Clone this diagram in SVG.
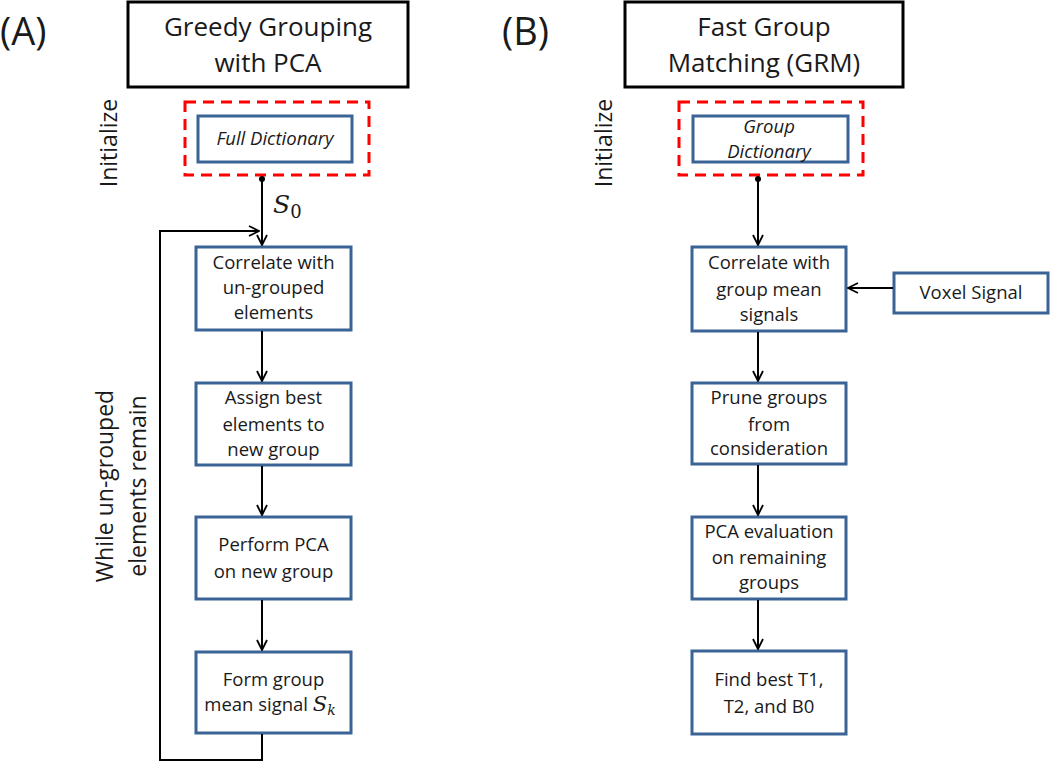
<svg xmlns="http://www.w3.org/2000/svg" width="1050" height="763" viewBox="0 0 1050 763">
<style>
text{font-family:"Open Sans","Liberation Sans",sans-serif;fill:#1a1a1a;}
.lbl{font-size:38px;}
.title{font-size:26px;text-anchor:middle;}
.side{font-size:23px;text-anchor:middle;}
.bt{font-size:18.5px;text-anchor:middle;}
.it{font-style:italic;}
.math{font-family:"DejaVu Serif","Liberation Serif",serif;font-style:italic;font-size:21px;}
.mathL{font-family:"DejaVu Serif","Liberation Serif",serif;font-style:italic;font-size:25px;}
.sub{font-family:"DejaVu Serif","Liberation Serif",serif;font-style:normal;font-size:18px;}
.subi{font-family:"DejaVu Serif","Liberation Serif",serif;font-style:italic;font-size:14px;}
.tbox{fill:#fff;stroke:#000;stroke-width:3;}
.bbox{fill:#fff;stroke:#3A6396;stroke-width:3;}
.red{fill:none;stroke:#FF0000;stroke-width:3;stroke-dasharray:11 7;}
.con{fill:none;stroke:#000;stroke-width:2;}
</style>
<defs>
<marker id="arr" viewBox="0 0 12 12" refX="11" refY="6" markerWidth="12" markerHeight="12" markerUnits="userSpaceOnUse" orient="auto">
<path d="M1,1 L11,6 L1,11" fill="none" stroke="#000" stroke-width="1.8"/>
</marker>
<marker id="dot" viewBox="0 0 6 6" refX="3" refY="3" markerWidth="6" markerHeight="6" markerUnits="userSpaceOnUse">
<circle cx="3" cy="3" r="3" fill="#000"/>
</marker>
</defs>

<text class="lbl" x="0" y="45">(A)</text>
<text class="lbl" x="502" y="45">(B)</text>

<g id="titleA">
<rect class="tbox" x="128" y="2" width="280" height="85"/>
<text class="title" x="268" y="36">Greedy Grouping</text>
<text class="title" x="268" y="72">with PCA</text>
</g>
<g id="titleB">
<rect class="tbox" x="625" y="2" width="278" height="85"/>
<text class="title" x="764" y="36">Fast Group</text>
<text class="title" x="764" y="72">Matching (GRM)</text>
</g>

<g id="initA"><text class="side" transform="translate(117,143) rotate(-90)">Initialize</text></g>
<g id="initB"><text class="side" transform="translate(612,143) rotate(-90)">Initialize</text></g>

<g id="whileLabel">
<text class="side" transform="translate(113,486) rotate(-90)">While un-grouped</text>
<text class="side" transform="translate(146,486) rotate(-90)">elements remain</text>
</g>

<g id="initBoxA">
<rect class="red" x="185" y="102" width="184" height="73"/>
</g>
<g id="fullDict">
<rect class="bbox" x="198" y="116" width="154" height="46"/>
<text class="bt it" x="275" y="145">Full Dictionary</text>
</g>

<g id="initBoxB">
<rect class="red" x="679" y="102" width="184" height="73"/>
</g>
<g id="groupDict">
<rect class="bbox" x="693" y="116" width="155" height="46"/>
<text class="bt it" x="769" y="133">Group</text>
<text class="bt it" x="769" y="158">Dictionary</text>
</g>

<g id="a1">
<rect class="bbox" x="196" y="247" width="155" height="83"/>
<text class="bt" x="273.5" y="269">Correlate with</text>
<text class="bt" x="273.5" y="294">un-grouped</text>
<text class="bt" x="273.5" y="319">elements</text>
</g>
<g id="a2">
<rect class="bbox" x="196" y="383" width="155" height="82"/>
<text class="bt" x="273.5" y="404">Assign best</text>
<text class="bt" x="273.5" y="431">elements to</text>
<text class="bt" x="273.5" y="456">new group</text>
</g>
<g id="a3">
<rect class="bbox" x="196" y="517" width="155" height="82"/>
<text class="bt" x="273.5" y="551">Perform PCA</text>
<text class="bt" x="273.5" y="578">on new group</text>
</g>
<g id="a4">
<rect class="bbox" x="196" y="652" width="155" height="81"/>
<text class="bt" x="273.5" y="686">Form group</text>
<text class="bt" x="270" y="711">mean signal <tspan class="math">S</tspan><tspan class="subi" dy="4">k</tspan></text>
</g>

<g id="b1">
<rect class="bbox" x="692" y="247" width="154" height="84"/>
<text class="bt" x="769" y="269">Correlate with</text>
<text class="bt" x="769" y="296">group mean</text>
<text class="bt" x="769" y="321">signals</text>
</g>
<g id="voxel">
<rect class="bbox" x="894" y="273" width="154" height="40"/>
<text class="bt" x="971" y="299">Voxel Signal</text>
</g>
<g id="b2">
<rect class="bbox" x="692" y="383" width="154" height="81"/>
<text class="bt" x="769" y="404">Prune groups</text>
<text class="bt" x="769" y="431">from</text>
<text class="bt" x="769" y="455">consideration</text>
</g>
<g id="b3">
<rect class="bbox" x="692" y="517" width="154" height="82"/>
<text class="bt" x="769" y="538">PCA evaluation</text>
<text class="bt" x="769" y="564">on remaining</text>
<text class="bt" x="769" y="589">groups</text>
</g>
<g id="b4">
<rect class="bbox" x="692" y="651" width="154" height="83"/>
<text class="bt" x="769" y="686">Find best T1,</text>
<text class="bt" x="769" y="713">T2, and B0</text>
</g>

<g id="connectors">
<line class="con" x1="262" y1="179" x2="262" y2="245" marker-start="url(#dot)" marker-end="url(#arr)"/>
<text x="273" y="213"><tspan class="mathL">S</tspan><tspan class="sub" dy="5">0</tspan></text>
<line class="con" x1="262" y1="331" x2="262" y2="381" marker-end="url(#arr)"/>
<line class="con" x1="262" y1="466" x2="262" y2="515" marker-end="url(#arr)"/>
<line class="con" x1="262" y1="600" x2="262" y2="650" marker-end="url(#arr)"/>
<polyline class="con" points="262,734 262,760 160,760 160,231 259,231" marker-end="url(#arr)"/>

<line class="con" x1="758" y1="179" x2="758" y2="245" marker-start="url(#dot)" marker-end="url(#arr)"/>
<line class="con" x1="893" y1="288" x2="848" y2="288" marker-end="url(#arr)"/>
<line class="con" x1="758" y1="332" x2="758" y2="381" marker-end="url(#arr)"/>
<line class="con" x1="758" y1="465" x2="758" y2="515" marker-end="url(#arr)"/>
<line class="con" x1="758" y1="600" x2="758" y2="649" marker-end="url(#arr)"/>
</g>
</svg>
